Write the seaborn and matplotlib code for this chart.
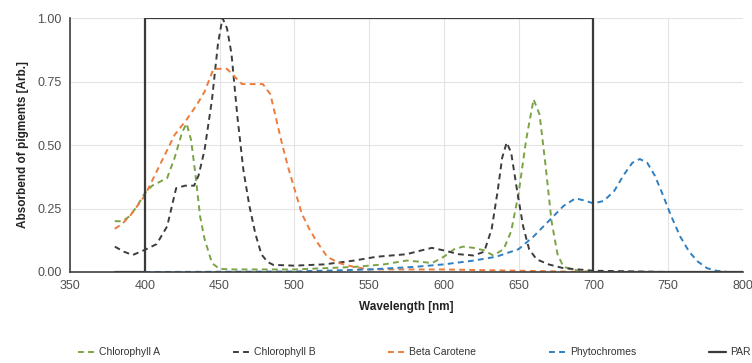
import numpy as np
import pandas as pd
import matplotlib
matplotlib.use("Agg")
import matplotlib.pyplot as plt
import seaborn as sns

# ---------------- data ----------------
wl_chl_a = [380, 385, 390, 395, 400, 405, 410, 415, 420, 425, 428, 431, 434, 437, 440, 445, 450,
            460, 480, 500, 520, 540, 560, 575, 585, 592, 600, 607, 613, 620, 627, 633, 640, 645,
            650, 655, 660, 664, 668, 672, 676, 680, 690, 700, 720]
chl_a = [0.20, 0.20, 0.22, 0.26, 0.31, 0.34, 0.355, 0.37, 0.45, 0.55, 0.585, 0.52, 0.38, 0.22, 0.13,
         0.035, 0.012, 0.01, 0.01, 0.01, 0.015, 0.02, 0.03, 0.045, 0.04, 0.035, 0.06, 0.09, 0.10,
         0.095, 0.085, 0.065, 0.09, 0.16, 0.31, 0.52, 0.68, 0.62, 0.42, 0.20, 0.07, 0.02, 0.005,
         0.0, 0.0]

wl_chl_b = [380, 386, 392, 400, 408, 415, 421, 427, 433, 436, 440, 445, 449, 452, 455, 458, 462, 466,
            470, 474, 478, 482, 486, 500, 520, 540, 555, 575, 585, 592, 600, 610, 620, 627, 632,
            636, 639, 642, 645, 649, 653, 657, 662, 670, 680, 700, 750, 800]
chl_b = [0.10, 0.08, 0.067, 0.087, 0.11, 0.18, 0.33, 0.34, 0.34, 0.38, 0.48, 0.68, 0.90, 1.00, 0.96,
         0.86, 0.61, 0.40, 0.26, 0.15, 0.07, 0.04, 0.028, 0.025, 0.03, 0.045, 0.06, 0.07, 0.085,
         0.095, 0.085, 0.07, 0.065, 0.08, 0.17, 0.32, 0.45, 0.51, 0.47, 0.32, 0.18, 0.09, 0.05,
         0.03, 0.015, 0.005, 0.0, 0.0]

wl_beta = [380, 385, 390, 395, 400, 410, 420, 428, 435, 440, 446, 450, 455, 460, 465, 472, 479, 484,
           488, 492, 496, 500, 505, 510, 515, 522, 530, 540, 550, 600, 650, 700]
beta_carotene = [0.17, 0.19, 0.22, 0.26, 0.30, 0.42, 0.54, 0.60, 0.66, 0.71, 0.80, 0.80, 0.80, 0.77,
                 0.74, 0.74, 0.74, 0.70, 0.60, 0.50, 0.41, 0.33, 0.23, 0.17, 0.12, 0.06, 0.035,
                 0.02, 0.01, 0.01, 0.005, 0.0]

wl_phyto = [400, 500, 550, 580, 600, 620, 635, 650, 660, 670, 680, 688, 695, 700, 707, 714, 720,
            726, 731, 736, 741, 746, 752, 758, 764, 770, 776, 782, 790]
phytochromes = [0.0, 0.002, 0.01, 0.02, 0.03, 0.045, 0.06, 0.09, 0.14, 0.20, 0.26, 0.29, 0.28, 0.27,
                0.28, 0.32, 0.38, 0.43, 0.445, 0.43, 0.38, 0.31, 0.22, 0.14, 0.08, 0.04, 0.015,
                0.005, 0.0]

wl_par = [380, 400, 400, 700, 700, 800]
par = [0.0, 0.0, 1.0, 1.0, 0.0, 0.0]

x_ticks = [350, 400, 450, 500, 550, 600, 650, 700, 750, 800]
y_ticks = [0.00, 0.25, 0.50, 0.75, 1.00]

# ---------------- style ----------------
sns.set_theme(style="whitegrid")
plt.rcParams["font.family"] = ["Liberation Sans", "DejaVu Sans"]

fig = plt.figure(figsize=(7.52, 3.63), dpi=100)
ax = fig.add_axes([0.093, 0.2507, 0.895, 0.6995])

c_a = "#7ba346"
c_b = "#3d3d3d"
c_beta = "#ec7c3c"
c_phy = "#2f80c2"
c_par = "#3a3a3a"
dash = (3, 2.2)

series = [
    (wl_chl_a, chl_a, "Chlorophyll A", c_a),
    (wl_chl_b, chl_b, "Chlorophyll B", c_b),
    (wl_beta, beta_carotene, "Beta Carotene", c_beta),
    (wl_phyto, phytochromes, "Phytochromes", c_phy),
]
for xs, ys, lab, col in series:
    sns.lineplot(x=xs, y=ys, ax=ax, color=col, lw=1.4, dashes=False, sort=False,
                 estimator=None, label=lab)
    ax.lines[-1].set_dashes(dash)

sns.lineplot(x=wl_par, y=par, ax=ax, color=c_par, lw=1.6, sort=False, estimator=None, label="PAR")

ax.set_xlim(350, 800)
ax.set_ylim(0, 1.0)
ax.set_xticks(x_ticks)
ax.set_yticks(y_ticks)
ax.set_yticklabels([f"{v:.2f}" for v in y_ticks])
ax.set_facecolor("white")
ax.grid(True, color="#e3e3e3", lw=0.8)
for s in ["top", "right"]:
    ax.spines[s].set_visible(False)
for s in ["left", "bottom"]:
    ax.spines[s].set_visible(True)
    ax.spines[s].set_color("#404040")
    ax.spines[s].set_linewidth(1.2)
ax.tick_params(axis="both", labelsize=9, colors="#505050", length=0, pad=6)
ax.set_xlabel("Wavelength [nm]", fontsize=8.5, fontweight="bold", color="#222222", labelpad=6)
ax.set_ylabel("Absorbend of pigments [Arb.]", fontsize=8.5, fontweight="bold", color="#222222",
              labelpad=6)

handles, labels = ax.get_legend_handles_labels()
ax.get_legend().remove()
fig.legend(handles, labels, loc="lower center", bbox_to_anchor=(0.551, -0.01), ncol=5,
           frameon=False, fontsize=7.5, handlelength=1.6, handletextpad=0.4,
           columnspacing=7.0, labelcolor="#333333")

fig.savefig("out.png", dpi=100, facecolor="white")
